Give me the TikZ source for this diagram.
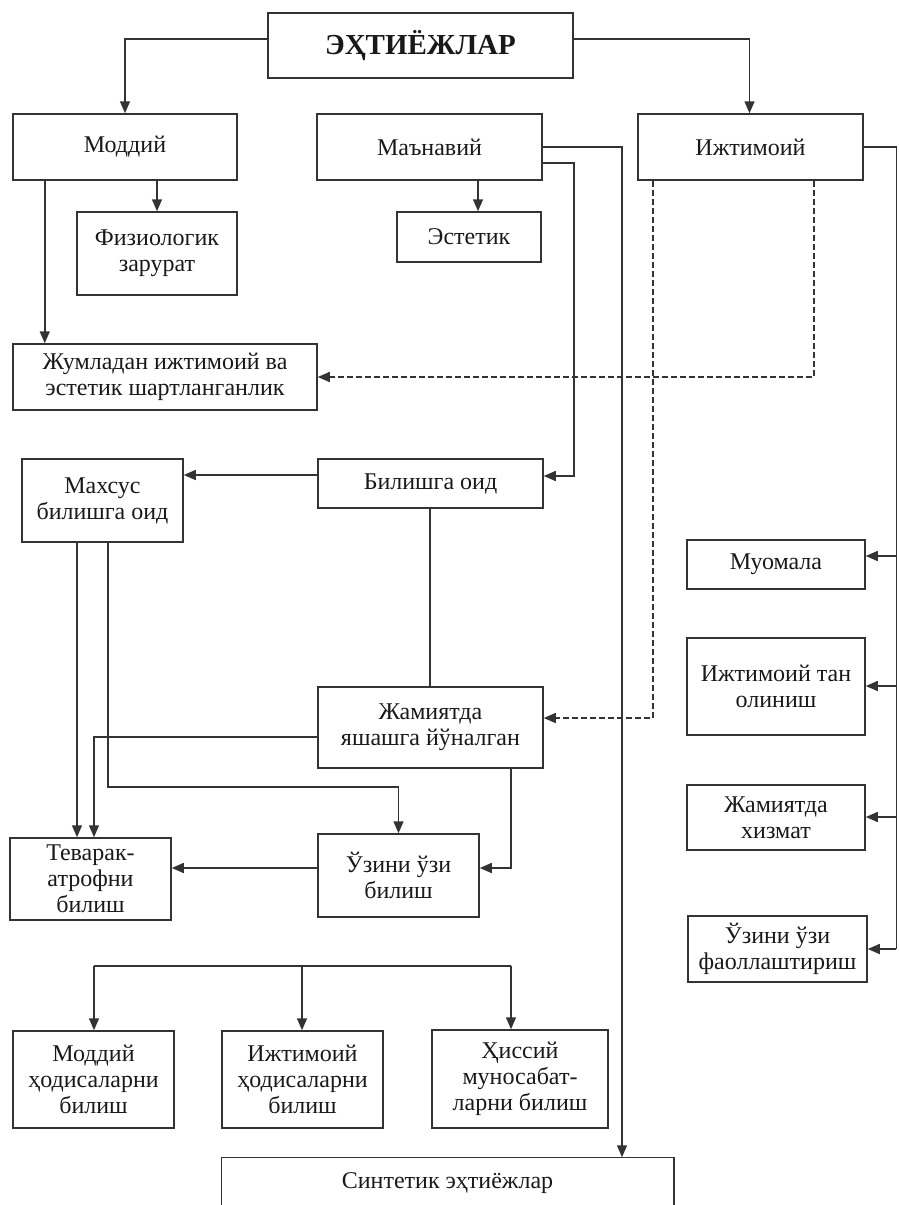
\documentclass[tikz,border=0pt]{standalone}
\usepackage{fontspec}
\setmainfont{Liberation Serif}
\usetikzlibrary{arrows.meta,calc}
\begin{document}
\begin{tikzpicture}[x=1pt,y=-1pt,
  line width=1.5pt, draw=black!80,
  box/.style={draw=black!80, rectangle, inner sep=0pt, align=center,
    text=black!90, font=\fontsize{24}{26}\selectfont},
  arr/.style={-{Triangle[length=12pt,width=10pt]}},
  ln/.style={draw=black!80}]
\useasboundingbox (0,0) rectangle (898,1205);
% nodes
\node[box, minimum width=305pt, minimum height=65pt, font=\fontsize{29}{30}\selectfont\bfseries] (top) at (420.5,45.5) {ЭҲТИЁЖЛАР};
\node[box, minimum width=224pt, minimum height=66pt] (modd) at (125,147) {Моддий};
\node[box, minimum width=225pt, minimum height=66pt] (manav) at (429.5,147) {Маънавий};
\node[box, minimum width=225pt, minimum height=66pt] (ijt) at (750.5,147) {Ижтимоий};
\node[box, minimum width=160pt, minimum height=83pt] (fiz) at (157,253.5) {Физиологик\\зарурат};
\node[box, minimum width=144pt, minimum height=50pt] (est) at (469,237) {Эстетик};
\node[box, minimum width=304pt, minimum height=66pt] (juml) at (165,377) {Жумладан ижтимоий ва\\эстетик шартланганлик};
\node[box, minimum width=161pt, minimum height=83pt] (maxs) at (102.5,500.5) {Махсус\\билишга оид};
\node[box, minimum width=225pt, minimum height=49pt] (bil) at (430.5,483.5) {Билишга оид};
\node[box, minimum width=225pt, minimum height=81pt] (jam) at (430.5,727.5) {Жамиятда\\яшашга йўналган};
\node[box, minimum width=161pt, minimum height=83pt] (uzini) at (398.5,875.5) {Ўзини ўзи\\билиш};
\node[box, minimum width=161pt, minimum height=82pt] (tev) at (90.5,879) {Теварак-\\атрофни\\билиш};
\node[box, minimum width=161pt, minimum height=97pt] (mh) at (93.5,1079.5) {Моддий\\ҳодисаларни\\билиш};
\node[box, minimum width=161pt, minimum height=97pt] (ih) at (302.5,1079.5) {Ижтимоий\\ҳодисаларни\\билиш};
\node[box, minimum width=176pt, minimum height=98pt] (his) at (520,1079) {Ҳиссий\\муносабат-\\ларни билиш};
\node[box, draw=none, minimum width=451pt, minimum height=50pt] (sint) at (447.5,1183) {Синтетик эҳтиёжлар};
\draw[ln] (sint.south west) -- (sint.north west) -- (sint.north east) -- (sint.south east);
\node[box, minimum width=178pt, minimum height=49pt] (muom) at (776,564.5) {Муомала};
\node[box, minimum width=178pt, minimum height=97pt] (tan) at (776,686.5) {Ижтимоий тан\\олиниш};
\node[box, minimum width=178pt, minimum height=65pt] (xiz) at (776,817.5) {Жамиятда\\хизмат};
\node[box, minimum width=179pt, minimum height=66pt] (faol) at (777.5,949) {Ўзини ўзи\\фаоллаштириш};
% connectors
\draw[ln,arr] ([yshift=6.5pt]top.west) -| (modd.north);
\draw[ln,arr] ([yshift=6.5pt]top.east) -| ([xshift=-1pt]ijt.north);
\draw[ln,arr] (modd.south -| fiz.north) -- (fiz.north);
\draw[ln,arr] ([xshift=32.5pt]modd.south west) -- ([xshift=32.5pt]juml.north west);
\draw[ln,arr] ([xshift=9pt]est.north |- manav.south) -- ([xshift=9pt]est.north);
\draw[ln,arr] (manav.east) -| ([xshift=174.5pt]sint.north);
\draw[ln,arr] ([yshift=-16pt]manav.east) -- ++(31,0) |- ([yshift=7.5pt]bil.east);
\draw[ln,arr,dash pattern=on 6pt off 3pt] ([xshift=63.5pt]ijt.south) |- (juml.east);
\draw[ln,arr,dash pattern=on 6pt off 3pt] ([xshift=-97.5pt]ijt.south) |- ([yshift=9.5pt]jam.east);
\draw[ln,arr] ([yshift=8.5pt]bil.west) -- ([yshift=8.5pt]bil.west -| maxs.east);
\draw[ln] ([xshift=-0.5pt]bil.south) -- ([xshift=-0.5pt]jam.north);
\draw[ln,arr] ([xshift=-25.5pt]maxs.south) -- ([xshift=-25.5pt]maxs.south |- tev.north);
\draw[ln,arr] ([xshift=5.5pt]maxs.south) -- ++(0,244) -| (uzini.north);
\draw[ln,arr] ([yshift=-9.5pt]jam.west) -| ([xshift=3.5pt]tev.north);
\draw[ln,arr] ([xshift=80.5pt]jam.south) |- ([yshift=7.5pt]uzini.east);
\draw[ln,arr] ([yshift=7.5pt]uzini.west) -- ([yshift=7.5pt]uzini.west -| tev.east);
% bottom bar
\coordinate (barL) at (94,966);
\coordinate (barR) at (511,966);
\draw[ln] (barL) -- (barR);
\draw[ln,arr] (barL) -- (barL |- mh.north);
\draw[ln,arr] (barL -| ih.north) ++(-0.5,0) -- ([xshift=-0.5pt]ih.north);
\draw[ln,arr] (barR) -- (barR |- his.north);
% right side
\draw[ln] (ijt.east) -- ++(32.5,0) coordinate (rtop) -- (rtop |- faol.east);
\draw[ln,arr] ([yshift=8.5pt]muom.east -| rtop) -- ([yshift=8.5pt]muom.east);
\draw[ln,arr] ([yshift=0.5pt]tan.east -| rtop) -- ([yshift=0.5pt]tan.east);
\draw[ln,arr] ([yshift=0.5pt]xiz.east -| rtop) -- ([yshift=0.5pt]xiz.east);
\draw[ln,arr] (faol.east -| rtop) -- (faol.east);
\end{tikzpicture}
\end{document}
